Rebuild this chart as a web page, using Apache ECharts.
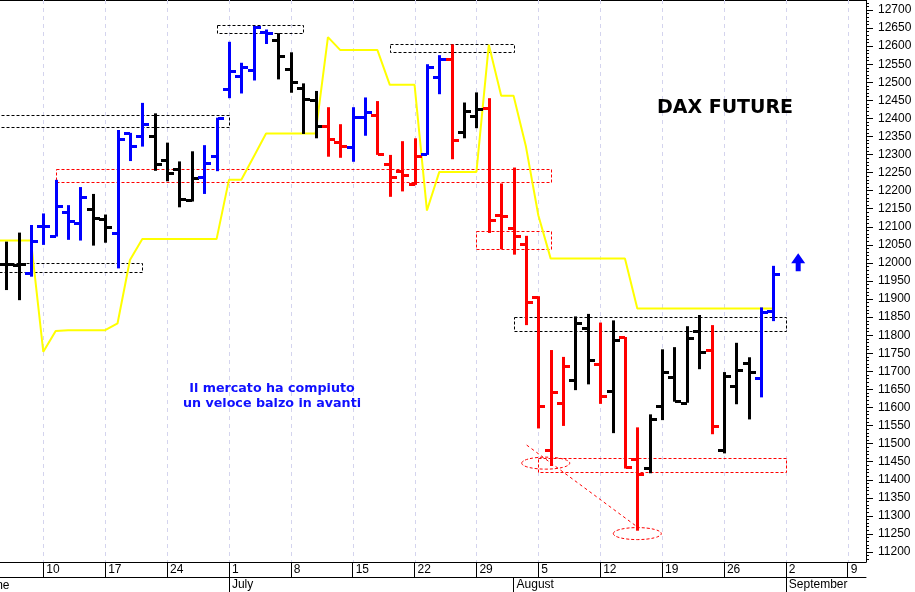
<!DOCTYPE html>
<html><head><meta charset="utf-8">
<script src="https://cdn.jsdelivr.net/npm/echarts@6/dist/echarts.min.js"></script>
<style>html,body{margin:0;padding:0;background:#fff;overflow:hidden}#c{width:915px;height:592px}</style>
</head><body><div id="c"></div>
<script>
// x = trading-day index, 0 = Monday 10 June 2019
const firstDay = -3;               // first bar: Wed 5 June 2019
const open  = [11998,11994,11971,12102,12075,12140,12111,12150,12122,12083,12359,12350,12351,12285,12259,12174,12239,12295,12481,12517,12534,12640,12618,12537,12483,12452,12379,12336,12320,12403,12409,12274,12254,12219,12301,12514,12564,12362,12407,12428,12133,12098,12052,11907,11481,11612,11676,11820,11720,11646,11794,11457,11432,11604,11683,11613,11811,11759,11483,11659,11724,11681,11867];
const high  = [12059,12084,12105,12137,12230,12160,12210,12191,12134,12368,12360,12443,12414,12333,12281,12309,12326,12402,12612,12554,12656,12646,12636,12583,12497,12476,12431,12384,12431,12458,12448,12299,12337,12345,12550,12575,12605,12444,12472,12456,12220,12264,12075,11908,11759,11740,11852,11859,11835,11841,11795,11545,11581,11761,11767,11825,11856,11828,11698,11779,11739,11877,11992];
const low   = [11925,11897,11962,12050,12073,12064,12062,12048,12056,11985,12282,12322,12255,12226,12154,12170,12191,12254,12456,12469,12505,12606,12508,12471,12357,12345,12294,12291,12280,12352,12299,12183,12198,12216,12299,12467,12287,12345,12373,12083,12038,12023,11828,11542,11438,11549,11648,11664,11610,11529,11431,11259,11418,11565,11616,11613,11706,11526,11473,11609,11567,11628,11839];
const close = [11997,11997,12062,12102,12158,12115,12183,12124,12100,12344,12324,12385,12274,12248,12176,12236,12277,12401,12532,12542,12654,12636,12573,12502,12454,12379,12343,12323,12403,12419,12301,12238,12244,12295,12543,12564,12340,12421,12426,12118,12131,12074,11893,11605,11643,11714,11834,11731,11631,11787,11434,11417,11569,11699,11617,11791,11754,11549,11688,11705,11699,11865,11969];
const barColor = ['k','k','b','b','b','b','b','k','k','b','b','b','k','k','k','k','b','b','b','b','b','b','k','k','k','k','r','r','b','b','r','r','r','r','b','b','r','k','k','r','r','r','r','r','r','r','k','k','r','k','r','r','k','k','k','k','k','r','k','k','k','b','b'];

// yellow indicator line, from day index -4
const lineFirstDay = -4;
const yellow = [12062,12062,12062,12062,11754,11812,11814,11814,11814,11814,11833,12008,12066,12066,12066,12066,12066,12066,12066,12230,12230,12294,12358,12358,12358,12358,12358,12625,12589,12589,12589,12589,12493,12493,12493,12145,12252,12252,12252,12252,12604,12463,12463,12322,12132,12012,12012,12012,12012,12012,12012,12012,11874,11874,11874,11874,11874,11874,11874,11874,11874,11874,11874,11874];

// dashed annotation boxes [fromDay, toDay, low, high]
const boxFrom  = [14, -5, 1, -5, 28, 35, 38, 40];
const boxTo    = [21, 15, 41, 8, 38, 41, 60, 60];
const boxLow   = [12635, 12377, 12223, 11974, 12583, 12038, 11812, 11422];
const boxHigh  = [12658, 12409, 12259, 12001, 12605, 12088, 11851, 11459];
const boxColor = ['k','k','r','k','k','r','k','r'];

// dashed ellipses [day, value] and diagonal
const ellDay = [40.6, 48];
const ellVal = [11446, 11251];
const diagDay = [39.06, 47.9];
const diagVal = [11496, 11272];
const arrowDay = 61, arrowVal = 12027;

// axis ticks
const weekTickDay = [0,5,10,15,20,25,30,35,40,45,50,55,60,65];
const weekTickLabel = ['10','17','24','1','8','15','22','29','5','12','19','26','2','9'];
const monthTickDay = [15,38,60];
const monthTickLabel = ['July','August','September'];
const yLabels = [11200,11250,11300,11350,11400,11450,11500,11550,11600,11650,11700,11750,11800,11850,11900,11950,12000,12050,12100,12150,12200,12250,12300,12350,12400,12450,12500,12550,12600,12650,12700];
const yMinor = []; for (let v = 11180; v <= 12720; v += 10) yMinor.push(v);

const X_MIN = -3.5, X_MAX = 66.48, Y_MIN = 11172.4, Y_MAX = 12727.7;
const pal = {k:'#000000', b:'#0000ff', r:'#ff0000'};

const bars = open.map((o,i)=>[firstDay+i, o, high[i], low[i], close[i], barColor[i]]);
const yl = yellow.map((v,i)=>[lineFirstDay+i, v]);
const boxes = boxFrom.map((f,i)=>[f, boxTo[i], boxLow[i], boxHigh[i], boxColor[i]]);

const chart = echarts.init(document.getElementById('c'));
const fontAx = '"Liberation Sans", Arial, sans-serif';
chart.setOption({
  animation:false,
  backgroundColor:'#fff',
  grid:{left:0, right:49, top:0, bottom:30},
  xAxis:[{
    type:'value', min:X_MIN, max:X_MAX, position:'bottom',
    axisLine:{show:true, onZero:false, lineStyle:{color:'#000', width:1}},
    axisTick:{show:true, customValues:weekTickDay, length:15, lineStyle:{color:'#000'}},
    axisLabel:{customValues:weekTickDay, formatter:v=>weekTickLabel[weekTickDay.indexOf(v)], align:'left', padding:[0,0,0,3], margin:2, color:'#000', fontSize:12, fontFamily:fontAx},
    splitLine:{show:false}
  },{
    type:'value', min:X_MIN, max:X_MAX, position:'bottom', offset:15,
    axisLine:{show:true, onZero:false, lineStyle:{color:'#000', width:1}},
    axisTick:{show:true, customValues:monthTickDay, length:15, lineStyle:{color:'#000'}},
    axisLabel:{customValues:monthTickDay, formatter:v=>monthTickLabel[monthTickDay.indexOf(v)], align:'left', padding:[0,0,0,3], margin:2, color:'#000', fontSize:12, fontFamily:fontAx},
    splitLine:{show:false}
  },{
    type:'value', min:X_MIN, max:X_MAX, position:'top',
    axisLine:{show:true, onZero:false, lineStyle:{color:'#000', width:2}},
    axisTick:{show:false}, axisLabel:{show:false}, splitLine:{show:false}
  }],
  yAxis:[{
    type:'value', position:'right', min:Y_MIN, max:Y_MAX,
    axisLine:{show:true, onZero:false, lineStyle:{color:'#000', width:1}},
    axisTick:{show:true, customValues:yLabels, length:7, lineStyle:{color:'#000'}},
    axisLabel:{customValues:yLabels, formatter:v=>String(v), margin:12, color:'#000', fontSize:12, fontFamily:fontAx},
    splitLine:{show:false}
  },{
    type:'value', position:'right', min:Y_MIN, max:Y_MAX,
    axisLine:{show:false, onZero:false},
    axisTick:{show:true, customValues:yMinor, length:3, lineStyle:{color:'#000'}},
    axisLabel:{show:false}, splitLine:{show:false}
  }],
  graphic:[
    {type:'text', x:725, y:108, z:100, style:{text:'DAX FUTURE', font:'bold 19px "DejaVu Sans", Verdana, sans-serif', fill:'#000', align:'center', verticalAlign:'middle', textAlign:'center', textVerticalAlign:'middle'}},
    {type:'text', x:272, y:396, z:100, style:{text:'Il mercato ha compiuto\nun veloce balzo in avanti', font:'bold 12.7px "DejaVu Sans", Verdana, sans-serif', lineHeight:14.7, fill:'#1010ff', align:'center', verticalAlign:'middle', textAlign:'center', textVerticalAlign:'middle'}},
    {type:'text', x:-16.5, y:585.5, z:100, style:{text:'June', font:'12px "Liberation Sans", Arial, sans-serif', fill:'#000', verticalAlign:'middle', textVerticalAlign:'middle'}}
  ],
  series:[{
    type:'custom', name:'grid', z:1, silent:true,
    data:weekTickDay.map(d=>[d]),
    encode:{x:0},
    renderItem:(p,api)=>{
      const a = api.coord([api.value(0), Y_MAX]), b = api.coord([api.value(0), Y_MIN]);
      const x = Math.round(a[0]) + 0.5;
      return {type:'line', shape:{x1:x, y1:a[1], x2:x, y2:b[1]}, style:{stroke:'#d4d4ee', lineWidth:1, lineDash:[4,4]}};
    }
  },{
    type:'custom', name:'boxes', z:2, silent:true,
    data:boxes, encode:{x:[0,1], y:[2,3]},
    renderItem:(p,api)=>{
      const a = api.coord([api.value(0), api.value(3)]), b = api.coord([api.value(1), api.value(2)]);
      const col = pal[boxes[p.dataIndex][4]];
      const x1 = Math.round(a[0])+0.5, y1 = Math.round(a[1])+0.5, x2 = Math.round(b[0])+0.5, y2 = Math.round(b[1])+0.5;
      return {type:'rect', shape:{x:x1, y:y1, width:x2-x1, height:y2-y1}, style:{fill:null, stroke:col, lineWidth:1, lineDash:[3,2]}};
    }
  },{
    type:'custom', name:'ellipses', z:2, silent:true,
    data:ellDay.map((d,i)=>[d, ellVal[i]]), encode:{x:0, y:1},
    renderItem:(p,api)=>{
      const c = api.coord([api.value(0), api.value(1)]);
      return {type:'ellipse', shape:{cx:c[0], cy:c[1], rx:24, ry:6}, style:{fill:null, stroke:'#ff0000', lineWidth:1, lineDash:[3,2]}};
    }
  },{
    type:'line', name:'diag', z:2, silent:true, symbol:'none',
    data:diagDay.map((d,i)=>[d, diagVal[i]]),
    lineStyle:{color:'#ff0000', width:1, type:[3,3]}
  },{
    type:'line', name:'yellow', z:3, silent:true, symbol:'none',
    data:yl, lineStyle:{color:'#ffff00', width:2}
  },{
    type:'custom', name:'bars', z:4, silent:true,
    data:bars, encode:{x:0, y:[1,2,3,4]},
    renderItem:(p,api)=>{
      const d = bars[p.dataIndex];
      const o = api.coord([d[0], d[1]]), h = api.coord([d[0], d[2]]), l = api.coord([d[0], d[3]]), c = api.coord([d[0], d[4]]);
      const cx = Math.round(o[0]);
      const col = pal[d[5]];
      return {type:'group', children:[
        {type:'rect', shape:{x:cx-1, y:h[1], width:3, height:l[1]-h[1]}, style:{fill:col}},
        {type:'rect', shape:{x:cx-6, y:Math.round(o[1])-1, width:6, height:3}, style:{fill:col}},
        {type:'rect', shape:{x:cx+1, y:Math.round(c[1])-1, width:6, height:3}, style:{fill:col}}
      ]};
    }
  },{
    type:'custom', name:'arrow', z:5, silent:true,
    data:[[arrowDay, arrowVal]], encode:{x:0, y:1},
    renderItem:(p,api)=>{
      const t = api.coord([api.value(0), api.value(1)]);
      const x = t[0], y = t[1];
      return {type:'polygon', shape:{points:[[x,y],[x+7,y+10],[x+2.5,y+10],[x+2.5,y+18],[x-2.5,y+18],[x-2.5,y+10],[x-7,y+10]]}, style:{fill:'#0000ff'}};
    }
  }]
});
</script></body></html>
